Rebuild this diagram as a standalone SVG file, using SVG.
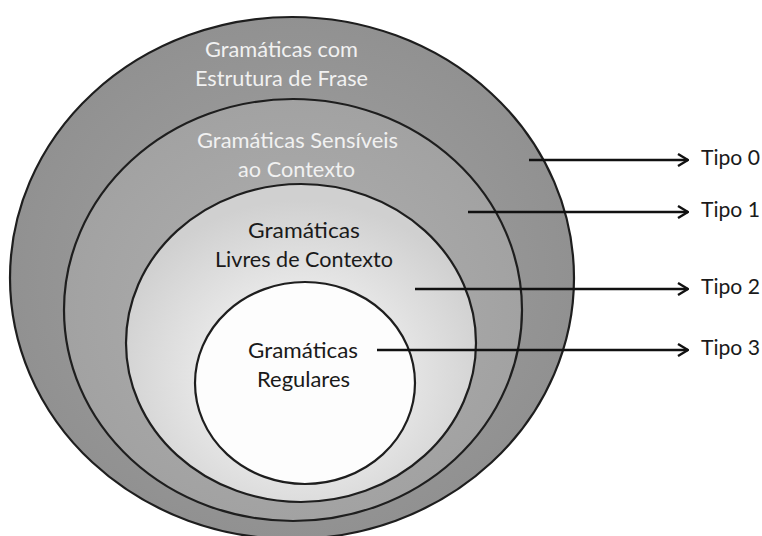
<svg xmlns="http://www.w3.org/2000/svg" width="762" height="536" viewBox="0 0 762 536">
  <defs>
    <radialGradient id="g0" cx="0.5" cy="0.5" r="0.5">
      <stop offset="0" stop-color="#a3a3a3"/>
      <stop offset="1" stop-color="#919191"/>
    </radialGradient>
    <radialGradient id="g1" cx="0.5" cy="0.5" r="0.5">
      <stop offset="0" stop-color="#b0b0b0"/>
      <stop offset="1" stop-color="#a2a2a2"/>
    </radialGradient>
    <radialGradient id="g2" cx="0.5" cy="0.6" r="0.55">
      <stop offset="0.4" stop-color="#ececec"/>
      <stop offset="1" stop-color="#d0d0d0"/>
    </radialGradient>
    <marker id="arr" viewBox="0 0 12 14" refX="11" refY="7" markerWidth="12" markerHeight="14" markerUnits="userSpaceOnUse" orient="auto">
      <path d="M1,1 L11,7 L1,13" fill="none" stroke="#111" stroke-width="2.4"/>
    </marker>
    <style>
      .ring { stroke: #1e1e1e; stroke-width: 2.2; }
      .lbl { font-family: Lato, "Open Sans", "Liberation Sans", sans-serif; font-size: 22px; text-anchor: middle; }
      .light { fill: #f1f1f1; }
      .dark { fill: #1a1a1a; }
      .tipo { font-family: Lato, "Open Sans", "Liberation Sans", sans-serif; font-size: 22px; fill: #1a1a1a; }
      .conn { stroke: #111; stroke-width: 2.4; fill: none; marker-end: url(#arr); }
    </style>
  </defs>
  <rect width="762" height="536" fill="#ffffff"/>

  <g id="tipo0-set">
    <ellipse class="ring" cx="292" cy="278" rx="282" ry="261" fill="url(#g0)"/>
    <text class="lbl light" x="281.5" y="57" textLength="153" lengthAdjust="spacingAndGlyphs">Gramáticas com</text>
    <text class="lbl light" x="281.5" y="86" textLength="173" lengthAdjust="spacingAndGlyphs">Estrutura de Frase</text>
  </g>
  <g id="tipo1-set">
    <ellipse class="ring" cx="293" cy="310" rx="229" ry="211" fill="url(#g1)"/>
    <text class="lbl light" x="297.5" y="148" textLength="201" lengthAdjust="spacingAndGlyphs">Gramáticas Sensíveis</text>
    <text class="lbl light" x="296.5" y="177" textLength="117" lengthAdjust="spacingAndGlyphs">ao Contexto</text>
  </g>
  <g id="tipo2-set">
    <ellipse class="ring" cx="301" cy="343" rx="175" ry="159" fill="url(#g2)"/>
    <text class="lbl dark" x="304" y="238" textLength="112" lengthAdjust="spacingAndGlyphs">Gramáticas</text>
    <text class="lbl dark" x="304" y="267" textLength="178" lengthAdjust="spacingAndGlyphs">Livres de Contexto</text>
  </g>
  <g id="tipo3-set">
    <ellipse class="ring" cx="305" cy="383" rx="110" ry="101" fill="#fdfdfd"/>
    <text class="lbl dark" x="303" y="358" textLength="110" lengthAdjust="spacingAndGlyphs">Gramáticas</text>
    <text class="lbl dark" x="303.5" y="387" textLength="93" lengthAdjust="spacingAndGlyphs">Regulares</text>
  </g>

  <g id="connectors">
    <line class="conn" x1="529" y1="160" x2="688" y2="160"/>
    <line class="conn" x1="468" y1="212" x2="688" y2="212"/>
    <line class="conn" x1="415" y1="289" x2="688" y2="289"/>
    <line class="conn" x1="377" y1="350" x2="688" y2="350"/>
  </g>

  <g id="label-tipo0"><text class="tipo" x="701" y="165" textLength="59" lengthAdjust="spacingAndGlyphs">Tipo 0</text></g>
  <g id="label-tipo1"><text class="tipo" x="701" y="217" textLength="59" lengthAdjust="spacingAndGlyphs">Tipo 1</text></g>
  <g id="label-tipo2"><text class="tipo" x="701" y="294" textLength="59" lengthAdjust="spacingAndGlyphs">Tipo 2</text></g>
  <g id="label-tipo3"><text class="tipo" x="701" y="355" textLength="59" lengthAdjust="spacingAndGlyphs">Tipo 3</text></g>
</svg>
